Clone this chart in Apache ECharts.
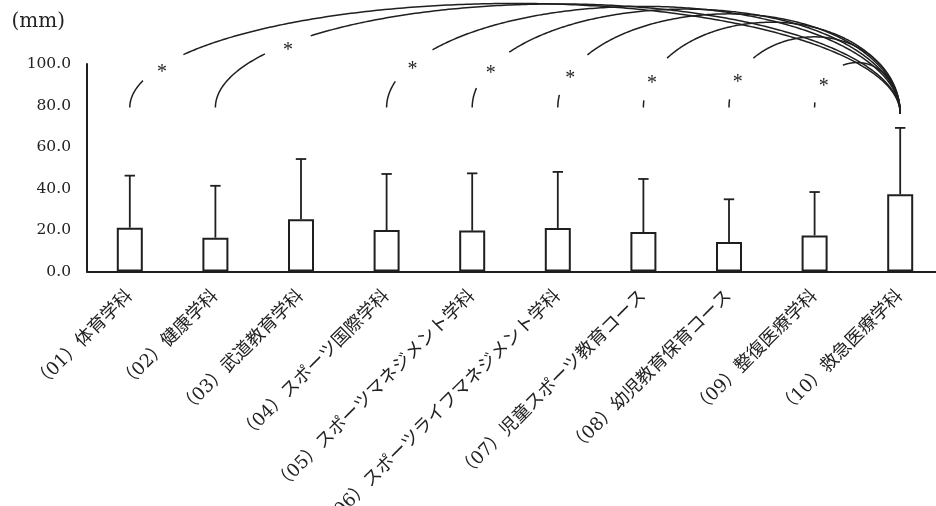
<!DOCTYPE html>
<html>
<head>
<meta charset="utf-8">
<script src="https://cdn.jsdelivr.net/npm/echarts@6/dist/echarts.min.js"></script>
<style>
html,body{margin:0;padding:0;background:#fff;}
#chart{width:936px;height:506px;}
</style>
</head>
<body>
<div id="chart"></div>
<script>
// ---------- data ----------
const categories = [
  '（01）体育学科',
  '（02）健康学科',
  '（03）武道教育学科',
  '（04）スポーツ国際学科',
  '（05）スポーツマネジメント学科',
  '（06）スポーツライフマネジメント学科',
  '（07）児童スポーツ教育コース',
  '（08）幼児教育保育コース',
  '（09）整復医療学科',
  '（10）救急医療学科'
];
const means = [21.1, 16.3, 25.2, 20.0, 19.7, 21.0, 19.0, 14.2, 17.4, 37.2];
const sds   = [25.1, 25.0, 29.0, 27.0, 27.6, 27.0, 25.6, 20.6, 20.9, 32.0];
const yTicks = [0, 20, 40, 60, 80, 100];
const unitLabel = '(mm)';
// significant comparisons (category indices): each vs (10)
const sigFrom = [0, 1, 3, 4, 5, 6, 7, 8];
const sigTo   = [9, 9, 9, 9, 9, 9, 9, 9];
const sigMark = '*';

// ---------- layout / style parameters ----------
const arcStartValue = 79;   // y value where bracket leaves the left bar
const arcEndValue = 76;     // y value where bracket reaches the right bar
const arcRise = 50.5;       // max rise of the bracket (value units)
const starAngles = [23.6, 38, 26, 24, 22, 21, 26, 38]; // position of mark along each arc (deg)
const ink = '#1f1f1f';
const serif = "'DejaVu Serif', 'Noto Sans CJK JP', serif";

const chart = echarts.init(document.getElementById('chart'), null, {renderer: 'canvas'});

function renderErr(params, api) {
  const i = api.value(0);
  const top = api.coord([i, api.value(2)]);
  const base = api.coord([i, api.value(1)]);
  const cap = 5.2;
  return {
    type: 'group',
    children: [
      {type: 'line', shape: {x1: top[0], y1: base[1], x2: top[0], y2: top[1]},
       style: {stroke: ink, lineWidth: 1.8}},
      {type: 'line', shape: {x1: top[0] - cap, y1: top[1], x2: top[0] + cap, y2: top[1]},
       style: {stroke: ink, lineWidth: 1.8}}
    ]
  };
}

function renderArc(params, api) {
  const from = api.value(0), to = api.value(1);
  const ang = starAngles[params.dataIndex] * Math.PI / 180;
  const p0 = api.coord([from, arcStartValue]);
  const p1 = api.coord([to, arcEndValue]);
  const riseRef = p0[1] - api.coord([from, arcStartValue + arcRise])[1];
  const span = to - from;
  const b = riseRef * (1 - Math.exp(-span / 1.78));
  const xm = (p0[0] + p1[0]) / 2, a = (p1[0] - p0[0]) / 2;
  const peakY = p0[1] - b;
  const pts = [];
  const N = 300;
  for (let k = 0; k <= N; k++) {
    const t = Math.PI * k / N;
    const x = xm - a * Math.cos(t);
    const base = t <= Math.PI / 2 ? p0[1] : p1[1];
    pts.push([x, base - (base - peakY) * Math.sin(t)]);
  }
  const star = [xm - a * Math.cos(ang), p0[1] - b * Math.sin(ang)];
  const gapR = 24;
  const segs = [];
  let cur = [];
  for (const p of pts) {
    if (Math.hypot(p[0] - star[0], p[1] - star[1]) < gapR) {
      if (cur.length > 1) segs.push(cur);
      cur = [];
    } else cur.push(p);
  }
  if (cur.length > 1) segs.push(cur);
  const children = segs.map(s => ({
    type: 'polyline', shape: {points: s},
    style: {stroke: ink, lineWidth: 1.5, fill: null}
  }));
  children.push({
    type: 'text', x: star[0], y: star[1] + 6.5,
    style: {text: sigMark, fill: ink, font: "20px 'Liberation Serif', serif",
            align: 'center', verticalAlign: 'middle'}
  });
  return {type: 'group', children};
}

const option = {
  backgroundColor: '#ffffff',
  animation: false,
  grid: {left: 87, top: 64, width: 856, bottom: 234.5, containLabel: false, outerBoundsMode: 'none'},
  xAxis: {
    type: 'category',
    data: categories,
    axisLine: {lineStyle: {color: ink, width: 2}},
    axisTick: {show: false},
    axisLabel: {
      interval: 0, rotate: 45, margin: 22,
      color: '#222', fontSize: 18, fontFamily: serif
    }
  },
  yAxis: {
    type: 'value',
    min: yTicks[0], max: yTicks[yTicks.length - 1], interval: yTicks[1] - yTicks[0],
    name: unitLabel, nameLocation: 'end', nameGap: 32,
    nameTextStyle: {color: '#222', fontSize: 20, fontFamily: serif, align: 'right', padding: [0, 22, 0, 0]},
    axisLine: {show: true, lineStyle: {color: ink, width: 2}},
    axisTick: {show: false},
    splitLine: {show: false},
    axisLabel: {
      margin: 16, color: '#222', fontSize: 15.5, fontFamily: serif,
      formatter: v => v.toFixed(1)
    }
  },
  series: [
    {
      type: 'bar',
      data: means,
      barWidth: 26,
      itemStyle: {color: '#ffffff', borderColor: ink, borderWidth: 2},
      z: 3
    },
    {
      type: 'custom',
      data: means.map((m, i) => [i, m, m + sds[i]]),
      renderItem: renderErr,
      z: 2
    },
    {
      type: 'custom',
      data: sigFrom.map((f, i) => [f, sigTo[i]]),
      renderItem: renderArc,
      encode: {x: 0, y: 1},
      clip: false,
      z: 4
    }
  ]
};
chart.setOption(option);
</script>
</body>
</html>
